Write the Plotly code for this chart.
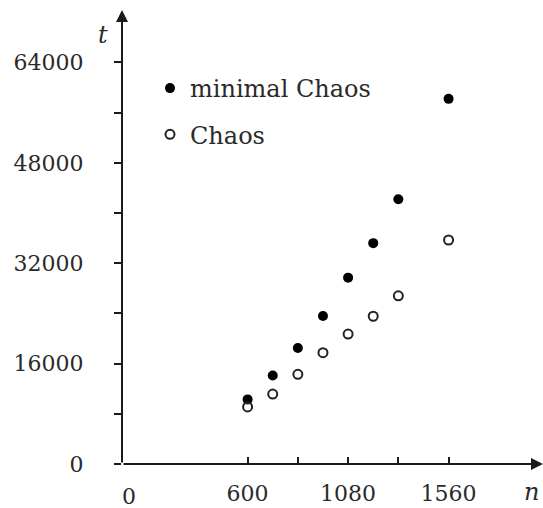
import plotly.graph_objects as go

n_values = [600, 720, 840, 960, 1080, 1200, 1320, 1560]
minimal_chaos = [10300, 14100, 18500, 23600, 29700, 35200, 42200, 58200]
chaos = [9100, 11150, 14300, 17750, 20700, 23550, 26800, 35700]

x_tickvals = [600, 840, 1080, 1320, 1560]
x_ticktext = ["600", "", "1080", "", "1560"]
y_tickvals = [0, 8000, 16000, 24000, 32000, 40000, 48000, 56000, 64000]
y_ticktext = ["0", "", "16000", "", "32000", "", "48000", "", "64000"]

FONT = "DejaVu Serif"
INK = "#1a1a1a"
TXT = "#2a2a2a"
XMAX = 2011
YMAX = 72360
L, T, B = 122, 10, 44
PW, PH = 543 - L, 508 - T - B


def px_to_paper(px, py):
    return (px - L) / PW, 1 - (py - T) / PH


fig = go.Figure()
fig.add_trace(go.Scatter(
    x=n_values, y=minimal_chaos, mode="markers", name="minimal Chaos",
    marker=dict(symbol="circle", size=10, color="black"),
    legendgroup="a", cliponaxis=False,
))
fig.add_trace(go.Scatter(
    x=n_values, y=chaos, mode="markers", name="Chaos",
    marker=dict(symbol="circle-open", size=9, color="#222", line=dict(width=2)),
    legendgroup="b", cliponaxis=False,
))

lx, ly = px_to_paper(150, 66)
fig.update_layout(
    width=543, height=508,
    margin=dict(l=L, r=0, t=T, b=B),
    paper_bgcolor="white", plot_bgcolor="white",
    font=dict(family=FONT, size=22, color=TXT),
    showlegend=True,
    legend=dict(
        x=lx, y=ly, xanchor="left", yanchor="top",
        bgcolor="rgba(0,0,0,0)", font=dict(family=FONT, size=24, color=TXT),
        itemwidth=30, traceorder="grouped", tracegroupgap=12,
    ),
    xaxis=dict(
        range=[0, XMAX], showgrid=False, zeroline=False, showline=False,
        tickmode="array", tickvals=x_tickvals, ticktext=x_ticktext,
        ticks="inside", ticklen=7, tickwidth=2, tickcolor=INK,
        tickfont=dict(family=FONT, size=22, color=TXT),
        ticklabelstandoff=14,
    ),
    yaxis=dict(
        range=[0, YMAX], showgrid=False, zeroline=False, showline=False,
        tickmode="array", tickvals=y_tickvals, ticktext=y_ticktext,
        ticks="outside", ticklen=7, tickwidth=2, tickcolor=INK,
        tickfont=dict(family=FONT, size=22, color=TXT),
        ticklabelstandoff=26,
    ),
)

# axis arrows
fig.add_annotation(x=XMAX, y=0, ax=0, ay=0, xref="x", yref="y", axref="x", ayref="y",
                   text="", showarrow=True, arrowhead=2, arrowsize=1.2, arrowwidth=2,
                   arrowcolor=INK)
fig.add_annotation(x=0, y=YMAX, ax=0, ay=0, xref="x", yref="y", axref="x", ayref="y",
                   text="", showarrow=True, arrowhead=2, arrowsize=1.2, arrowwidth=2,
                   arrowcolor=INK)

# axis titles and origin label
tx, ty = px_to_paper(103, 35)
fig.add_annotation(x=tx, y=ty, xref="paper", yref="paper", text="<i>t</i>",
                   showarrow=False, xanchor="center", yanchor="middle",
                   font=dict(family=FONT, size=24, color=TXT))
nx, ny = px_to_paper(531, 492)
fig.add_annotation(x=nx, y=ny, xref="paper", yref="paper", text="<i>n</i>",
                   showarrow=False, xanchor="center", yanchor="middle",
                   font=dict(family=FONT, size=24, color=TXT))
ox, oy = px_to_paper(129, 496)
fig.add_annotation(x=ox, y=oy, xref="paper", yref="paper", text="0",
                   showarrow=False, xanchor="center", yanchor="middle",
                   font=dict(family=FONT, size=22, color=TXT))

fig.write_html("out.html")
